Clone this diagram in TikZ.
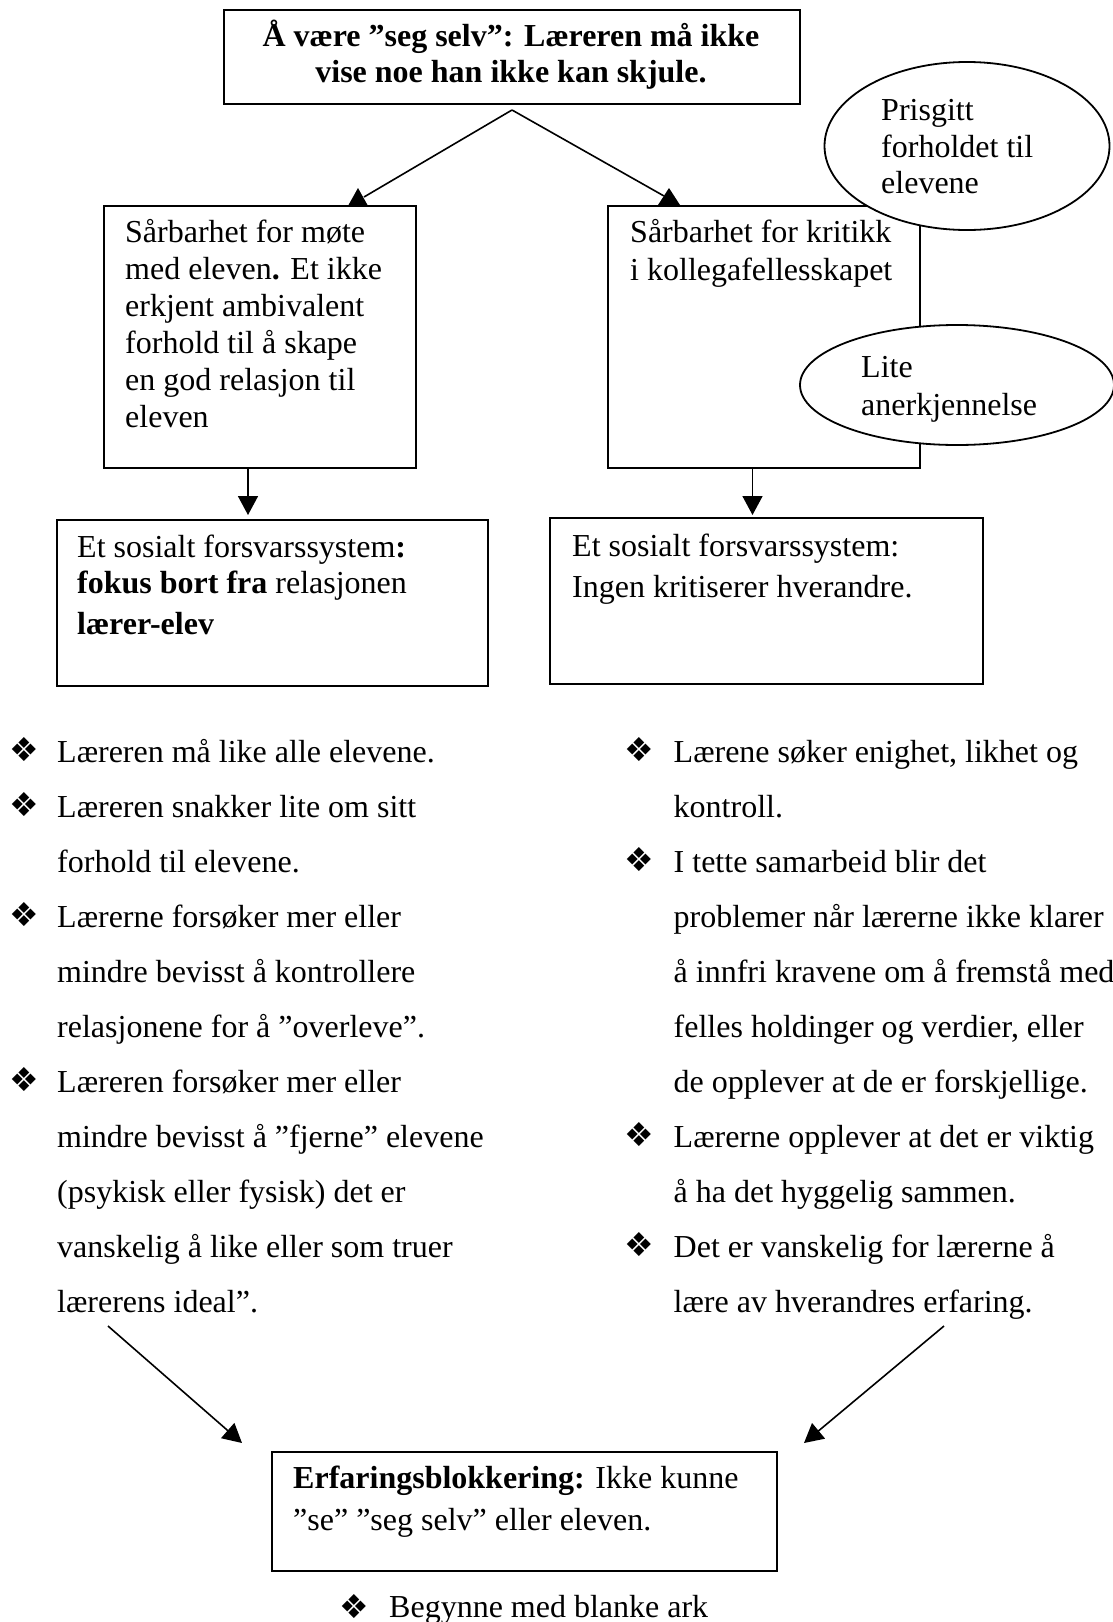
\documentclass[tikz,border=0pt]{standalone}
\usepackage{fontspec}
\setmainfont{Liberation Serif}
\newfontfamily\dingfont{DejaVu Sans}
\usetikzlibrary{arrows.meta,shapes.geometric}
\tikzset{
  frame/.style={draw, line width=1.8pt, fill=white, inner sep=0pt, outer sep=0pt, anchor=north west},
  oval/.style={ellipse, draw, line width=1.8pt, fill=white, inner sep=0pt, outer sep=0pt},
  conn/.style={line width=1.6pt},
  arr/.style={line width=1.6pt, -{Triangle[length=19pt,width=20pt]}},
  txt/.style={anchor=base west, inner sep=0pt, font=\fontsize{32}{38}\selectfont},
  ctxt/.style={anchor=base, inner sep=0pt, font=\bfseries\fontsize{32}{38}\selectfont},
  bul/.style={anchor=center, inner sep=0pt, font=\dingfont\fontsize{33}{36}\selectfont},
  head/.style={fill=black}
}
\begin{document}
\begin{tikzpicture}[x=1pt,y=-1pt]
\fill[white] (0,0) rectangle (1112,1622);
\useasboundingbox (0,0) rectangle (1112,1622);

% top box
\node[frame, minimum width=576pt, minimum height=94pt] (top) at (224,10) {};
\node[ctxt] (t1) at (511,46) {Å være ”seg selv”: Læreren må ikke};
\node[ctxt] (t2) at (511,82) {vise noe han ikke kan skjule.};

% upper boxes
\node[frame, minimum width=312pt, minimum height=262pt] (lbox) at (104,206) {};
\node[frame, minimum width=312pt, minimum height=262pt] (rbox) at (608,206) {};

\foreach \t [count=\i from 0] in {{Sårbarhet for møte},{med eleven\textbf{.} Et ikke},{erkjent ambivalent},{forhold til å skape},{en god relasjon til},{eleven}}
  \node[txt] (lb\i) at (125,{242+37*\i}) {\t};
\node[txt] (rb0) at (630,242) {Sårbarhet for kritikk};
\node[txt] (rb1) at (630,280) {i kollegafellesskapet};

% ovals
\node[oval, minimum width=285pt, minimum height=168pt] (e1) at (967,146) {};
\node[txt] (e1a) at (881,120) {Prisgitt};
\node[txt] (e1b) at (881,157) {forholdet til};
\node[txt] (e1c) at (881,193) {elevene};
\node[oval, minimum width=314pt, minimum height=120pt] (e2) at (957,385) {};
\node[txt] (e2a) at (861,377) {Lite};
\node[txt] (e2b) at (861,415) {anerkjennelse};

% connectors from top box
\coordinate (apex) at (512,110);
\coordinate (lae) at (364,197);
\coordinate (rae) at (664,196);
\coordinate (la) at (358,205);
\coordinate (ra) at (669,205);
\draw[conn] (apex) -- (lae);
\draw[conn] (apex) -- (rae);
\fill[head] (la) ++(-9.5,0) -- ++(9.5,-17) -- ++(9.5,17) -- cycle;
\fill[head] (ra) ++(-11,0) -- ++(11,-17) -- ++(11,17) -- cycle;

% lower boxes
\node[frame, minimum width=431pt, minimum height=166pt] (lsoc) at (57,520) {};
\node[frame, minimum width=433pt, minimum height=166pt] (rsoc) at (550,518) {};
\node[txt] (ls0) at (77,557) {Et sosialt forsvarssystem\textbf{:}};
\node[txt] (ls1) at (77,593) {\textbf{fokus bort fra} relasjonen};
\node[txt] (ls2) at (77,634) {\textbf{lærer-elev}};
\node[txt] (rs0) at (572,556) {Et sosialt forsvarssystem:};
\node[txt] (rs1) at (572,597) {Ingen kritiserer hverandre.};

\coordinate (c1) at (248,0);
\coordinate (c2) at (752.5,0);
\draw[arr, shorten >=5pt] (lbox.south -| c1) -- (lsoc.north -| c1);
\draw[arr, shorten >=3pt] (rbox.south -| c2) -- (rsoc.north -| c2);

% left bullet list
\foreach \t [count=\i from 0] in {{Læreren må like alle elevene.},{Læreren snakker lite om sitt},{forhold til elevene.},{Lærerne forsøker mer eller},{mindre bevisst å kontrollere},{relasjonene for å ”overleve”.},{Læreren forsøker mer eller},{mindre bevisst å ”fjerne” elevene},{(psykisk eller fysisk) det er},{vanskelig å like eller som truer},{lærerens ideal”.}}
  \node[txt] (lt\i) at (57,{762+55*\i}) {\t};
\foreach \k in {0,1,3,6}
  \node[bul] (lbul\k) at (24,{750+55*\k}) {❖};

% right bullet list
\foreach \t [count=\i from 0] in {{Lærene søker enighet, likhet og},{kontroll.},{I tette samarbeid blir det},{problemer når lærerne ikke klarer},{å innfri kravene om å fremstå med},{felles holdinger og verdier, eller},{de opplever at de er forskjellige.},{Lærerne opplever at det er viktig},{å ha det hyggelig sammen.},{Det er vanskelig for lærerne å},{lære av hverandres erfaring.}}
  \node[txt] (rt\i) at (673.5,{762+55*\i}) {\t};
\foreach \k in {0,2,7,9}
  \node[bul] (rbul\k) at (639,{750+55*\k}) {❖};

% diagonal arrows
\coordinate (d1a) at (108,1326);
\coordinate (d1b) at (242,1443);
\coordinate (d2a) at (944,1326);
\coordinate (d2b) at (804,1443);
\draw[arr] (d1a) -- (d1b);
\draw[arr] (d2a) -- (d2b);

% bottom box
\node[frame, minimum width=505pt, minimum height=119pt] (bot) at (272,1452) {};
\node[txt] (b0) at (293,1488) {\textbf{Erfaringsblokkering:} Ikke kunne};
\node[txt] (b1) at (293,1530) {”se” ”seg selv” eller eleven.};

\node[bul] (bbul) at (354,1607) {❖};
\node[txt] (bl) at (389,1617) {Begynne med blanke ark};
\end{tikzpicture}
\end{document}
